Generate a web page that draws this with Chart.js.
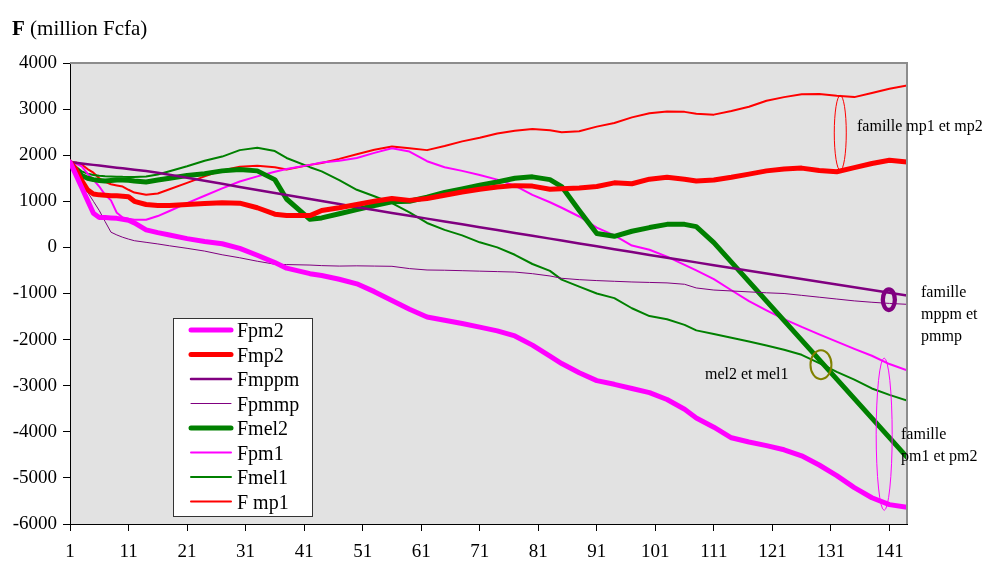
<!DOCTYPE html>
<html>
<head>
<meta charset="utf-8">
<script src="https://cdn.jsdelivr.net/npm/chart.js@4.4.0/dist/chart.umd.min.js"></script>
<style>
html,body{margin:0;padding:0;background:#fff;}
#wrap{width:985px;height:562px;}
</style>
</head>
<body>
<div id="wrap"><canvas id="c" width="985" height="562"></canvas></div>
<script>
// pas de temps (abscisse) et valeurs F en million Fcfa
const xs=[1,2,3,4,5,6,7,8,9,10,11,12,14,16,18,21,24,27,30,33,36,38,42,44,47,50,53,56,59,62,65,68,71,74,77,80,83,85,88,91,94,97,100,103,106,108,111,114,117,120,123,126,129,132,135,138,141,144];
const xTicks=[1,11,21,31,41,51,61,71,81,91,101,111,121,131,141];

const fpm2=[1850,1580,1300,1020,740,650,650,640,630,610,590,530,380,320,270,190,130,80,-20,-170,-330,-450,-570,-610,-690,-790,-960,-1150,-1340,-1510,-1580,-1650,-1730,-1810,-1920,-2120,-2360,-2520,-2720,-2890,-2970,-3060,-3150,-3300,-3510,-3700,-3900,-4130,-4220,-4300,-4390,-4520,-4720,-4950,-5210,-5430,-5580,-5640];
const fmp2=[1850,1700,1450,1250,1160,1140,1130,1120,1120,1110,1100,1000,930,910,910,930,950,970,960,860,720,690,690,800,860,930,1000,1060,1020,1060,1130,1200,1260,1310,1340,1330,1260,1270,1290,1320,1400,1380,1480,1520,1480,1440,1460,1520,1590,1660,1700,1720,1670,1640,1730,1820,1890,1850];
const fmppm=[1850,1835,1820,1805,1790,1775,1760,1745,1730,1715,1700,1685,1655,1620,1575,1510,1445,1380,1310,1245,1180,1135,1048,1005,940,872,810,748,686,624,562,500,438,376,314,252,190,150,86,24,-40,-101,-165,-225,-285,-325,-385,-445,-505,-565,-625,-685,-745,-805,-865,-925,-985,-1045];
const fpmmp=[1850,1640,1420,1200,1000,800,560,330,270,220,180,145,110,75,35,-20,-80,-160,-225,-300,-365,-372,-383,-395,-405,-400,-405,-410,-460,-490,-495,-505,-515,-525,-535,-570,-620,-670,-700,-720,-735,-750,-760,-770,-800,-880,-925,-945,-965,-985,-1000,-1040,-1080,-1120,-1160,-1190,-1215,-1235];
const fmel2=[1850,1700,1560,1500,1470,1450,1440,1450,1460,1460,1455,1440,1420,1460,1500,1560,1600,1660,1690,1660,1470,1050,610,640,730,820,910,990,1000,1090,1190,1270,1350,1420,1500,1530,1470,1320,800,300,240,350,430,500,500,450,103,-320,-743,-1166,-1589,-2012,-2435,-2858,-3281,-3704,-4127,-4550];
const fpm1=[1850,1820,1760,1600,1470,1320,1140,1020,750,650,620,600,600,680,790,960,1120,1280,1430,1540,1640,1700,1790,1840,1880,1940,2050,2150,2080,1870,1740,1660,1570,1470,1340,1140,980,860,670,430,260,40,-50,-200,-380,-500,-690,-930,-1165,-1365,-1555,-1725,-1885,-2045,-2200,-2350,-2530,-2668];
const fmel1=[1850,1750,1650,1600,1570,1555,1545,1540,1535,1530,1528,1525,1540,1580,1650,1760,1880,1970,2110,2160,2090,1940,1740,1650,1460,1250,1110,960,760,530,380,260,110,0,-160,-360,-510,-700,-850,-1000,-1100,-1320,-1490,-1560,-1680,-1800,-1880,-1960,-2040,-2130,-2220,-2330,-2510,-2700,-2870,-3060,-3200,-3320];
const fmp1=[1850,1840,1800,1700,1620,1500,1420,1370,1345,1320,1250,1190,1140,1170,1260,1400,1540,1670,1750,1770,1740,1690,1790,1830,1920,2020,2120,2190,2150,2110,2200,2300,2380,2470,2530,2570,2540,2500,2520,2620,2700,2820,2910,2950,2940,2900,2880,2960,3050,3180,3260,3320,3330,3290,3260,3350,3440,3510];

const serif='"Liberation Serif","Times New Roman",serif';
const pts=arr=>xs.map((x,i)=>({x,y:arr[i]}));
const line=(label,arr,color,w)=>({label,data:pts(arr),borderColor:color,backgroundColor:color,borderWidth:w,pointRadius:0,tension:0,borderJoinStyle:'round',borderCapStyle:'round'});

// ellipses et textes d'annotation (centre en coordonnées des axes)
const rings=[
  {x:132.6,yTop:3297,yBot:1670,rx:6,color:'#ff0000',w:1},
  {x:140.9,y:-1134,rx:6,ry:10.3,color:'#800080',w:4.3},
  {x:129.3,y:-2544,rx:10.5,ry:14.5,color:'#808000',w:2},
  {x:140.1,yTop:-2401,yBot:-5704,rx:8,color:'#ff00ff',w:1}
];
const notes=[
  {lines:['famille mp1 et mp2'],x:857,y:127},
  {lines:['famille','mppm et','pmmp'],x:921,y:293},
  {lines:['mel2 et mel1'],x:705,y:375},
  {lines:['famille','pm1 et pm2'],x:901,y:435}
];

const deco={
  id:'deco',
  beforeDraw(chart){
    const {ctx,chartArea:a}=chart;
    ctx.save();
    ctx.fillStyle='#e2e2e2';
    ctx.fillRect(a.left,a.top,a.right-a.left,a.bottom-a.top);
    ctx.restore();
  },
  afterDraw(chart){
    const {ctx,chartArea:a,scales:{x,y}}=chart;
    ctx.save();
    // bord gris haut et droit
    ctx.strokeStyle='#8c8c8c';ctx.lineWidth=2;
    ctx.beginPath();ctx.moveTo(a.left,a.top);ctx.lineTo(a.right,a.top);ctx.lineTo(a.right,a.bottom);ctx.stroke();
    // ellipses
    rings.forEach(r=>{
      const cx=x.getPixelForValue(r.x);
      let cy,ry;
      if(r.yTop!==undefined){const t=y.getPixelForValue(r.yTop),b=y.getPixelForValue(r.yBot);cy=(t+b)/2;ry=(b-t)/2;}
      else{cy=y.getPixelForValue(r.y);ry=r.ry;}
      ctx.strokeStyle=r.color;ctx.lineWidth=r.w;
      ctx.beginPath();ctx.ellipse(cx,cy,r.rx,ry,0,0,Math.PI*2);ctx.stroke();
    });
    // textes
    ctx.fillStyle='#000';ctx.font='16px '+serif;ctx.textAlign='left';ctx.textBaseline='middle';
    notes.forEach(n=>n.lines.forEach((s,i)=>ctx.fillText(s,n.x,n.y+i*22)));
    // légende
    const lx=173,ly=318,lw=139,lh=198;
    ctx.fillStyle='#fff';ctx.fillRect(lx,ly,lw,lh);
    ctx.strokeStyle='#333';ctx.lineWidth=1;ctx.strokeRect(lx+0.5,ly+0.5,lw,lh);
    ctx.font='20px '+serif;
    chart.data.datasets.forEach((ds,i)=>{
      const yy=330+i*24.5;
      ctx.strokeStyle=ds.borderColor;ctx.lineWidth=ds.borderWidth;ctx.lineCap='round';
      ctx.beginPath();ctx.moveTo(191,yy);ctx.lineTo(231,yy);ctx.stroke();
      ctx.fillStyle='#000';ctx.fillText(ds.label,237,yy+2);
    });
    // titre de l'axe
    ctx.textBaseline='alphabetic';
    ctx.font='bold 21px '+serif;ctx.fillText('F',12,35);
    const fw=ctx.measureText('F ').width;
    ctx.font='21px '+serif;ctx.fillText('(million Fcfa)',12+fw,35);
    ctx.restore();
  }
};

new Chart(document.getElementById('c').getContext('2d'),{
  type:'line',
  data:{datasets:[
    line('Fpm2',fpm2,'#ff00ff',5),
    line('Fmp2',fmp2,'#ff0000',5),
    line('Fmppm',fmppm,'#800080',2.5),
    line('Fpmmp',fpmmp,'#800080',1),
    line('Fmel2',fmel2,'#008000',5),
    line('Fpm1',fpm1,'#ff00ff',2),
    line('Fmel1',fmel1,'#008000',2),
    line('F mp1',fmp1,'#ff0000',2)
  ]},
  options:{
    responsive:false,animation:false,devicePixelRatio:1,
    layout:{padding:{left:0,top:63,right:78,bottom:0}},
    plugins:{legend:{display:false},tooltip:{enabled:false}},
    scales:{
      x:{type:'linear',min:1,max:144,
        afterBuildTicks:s=>{s.ticks=xTicks.map(v=>({value:v}));},
        afterFit:s=>{s.height=38;},
        ticks:{autoSkip:false,maxRotation:0,color:'#000',font:{family:serif,size:19},padding:10,callback:v=>String(v)},
        grid:{drawOnChartArea:false,drawTicks:true,tickLength:7,color:'#000'},
        border:{display:true,color:'#000',width:1}},
      y:{min:-6000,max:4000,
        afterFit:s=>{s.width=70;},
        ticks:{stepSize:1000,color:'#000',font:{family:serif,size:19},padding:6,callback:v=>String(v)},
        grid:{drawOnChartArea:false,drawTicks:true,tickLength:7,color:'#000'},
        border:{display:true,color:'#000',width:1}}
    }
  },
  plugins:[deco]
});
</script>
</body>
</html>
